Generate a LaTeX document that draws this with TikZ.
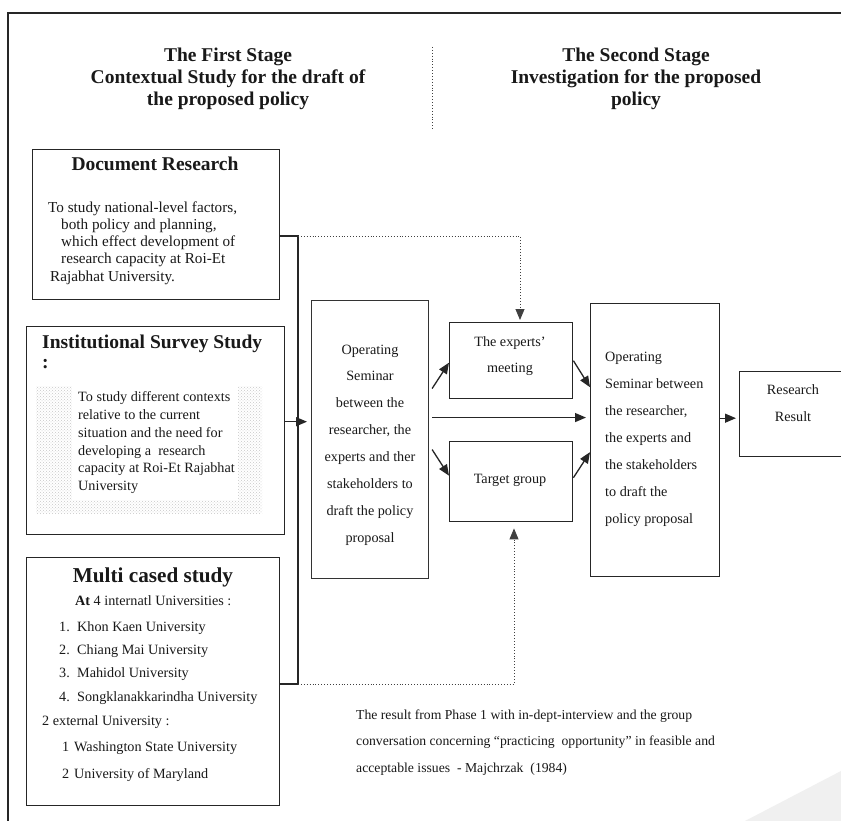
\documentclass[tikz,border=0pt]{standalone}
\usepackage{fontspec}
\setmainfont{Liberation Serif}
\usetikzlibrary{arrows.meta,patterns}
\begin{document}
\begin{tikzpicture}[x=1pt,y=-1pt,
  box/.style={draw=black!85,line width=1.4pt,inner sep=0pt,anchor=north west},
  thinbox/.style={draw=black!80,line width=1.1pt,inner sep=0pt,anchor=north west},
  txt/.style={inner sep=0pt,text=black!90},
  hd/.style={txt,font=\fontsize{19.5}{22}\selectfont\bfseries},
  bigt/.style={txt,font=\fontsize{21.2}{24}\selectfont\bfseries},
  bd/.style={txt,font=\fontsize{14.2}{17}\selectfont},
  docf/.style={txt,font=\fontsize{15.2}{17}\selectfont},
  smf/.style={txt,font=\fontsize{13.7}{17}\selectfont},
  ln/.style={draw=black!85,line width=1.3pt},
  arr/.style={ln,-{Triangle[length=11pt,width=9pt]}},
  dots/.style={draw=black!75,line width=0.9pt,dotted},
]
\useasboundingbox (0,0) rectangle (841,821);
\fill[white] (0,0) rectangle (841,821);
% soft grey corner shape
\fill[black!6] (745,821) -- (841,771) -- (841,821) -- cycle;

% outer frame
\draw[draw=black!85,line width=1.5pt] (8,821) -- (8,13) -- (841,13);

% stage headings
\node[hd,anchor=base] (h1a) at (228,62) {The First Stage};
\node[hd,anchor=base] (h1b) at (228,84) {Contextual Study for the draft of};
\node[hd,anchor=base] (h1c) at (228,106) {the proposed policy};
\node[hd,anchor=base] (h2a) at (636,62) {The Second Stage};
\node[hd,anchor=base] (h2b) at (636,84) {Investigation for the proposed};
\node[hd,anchor=base] (h2c) at (636,106) {policy};
\draw[dots,line width=0.7pt] (432,47) -- (432,130);

% first stage boxes
\node[box,minimum width=247pt,minimum height=150pt] (doc) at (32,149) {};
\node[box,minimum width=258pt,minimum height=208pt] (inst) at (26,326) {};
\node[box,minimum width=253pt,minimum height=248pt] (multi) at (26,557) {};

% stippled panel behind the survey text
\fill[pattern=crosshatch dots,pattern color=black!22] (36,386) rectangle (262,513);
\fill[white] (72,386) rectangle (238,500);

% Document Research
\node[hd,anchor=base] (docT) at (155,171) {Document Research};
\node[docf,anchor=base west] (doc1) at (48,213) {To study national-level factors,};
\node[docf,anchor=base west] (doc2) at (61,230) {both policy and planning,};
\node[docf,anchor=base west] (doc3) at (61,247) {which effect development of};
\node[docf,anchor=base west] (doc4) at (61,264) {research capacity at Roi-Et};
\node[docf,anchor=base west] (doc5) at (50,281) {Rajabhat University.};

% Institutional Survey Study
\node[hd,anchor=base west] (instT) at (42,348) {Institutional Survey Study};
\node[hd,anchor=base west] (instC) at (42,368) {:};
\node[bd,anchor=base west] (ins1) at (78,401) {To study different contexts};
\node[bd,anchor=base west] (ins2) at (78,419) {relative to the current};
\node[bd,anchor=base west] (ins3) at (78,437) {situation and the need for};
\node[bd,anchor=base west] (ins4) at (78,455) {developing a\ \ research};
\node[bd,anchor=base west] (ins5) at (78,472) {capacity at Roi-Et Rajabhat};
\node[bd,anchor=base west] (ins6) at (78,490) {University};

% Multi cased study
\node[bigt,anchor=base] (mulT) at (153,582) {Multi cased study};
\node[bd,anchor=base west] (mul0) at (75,605) {\textbf{At} 4 internatl Universities :};
\node[bd,anchor=base west] (mul1) at (59,631) {\makebox[18pt][l]{1.}Khon Kaen University};
\node[bd,anchor=base west] (mul2) at (59,654) {\makebox[18pt][l]{2.}Chiang Mai University};
\node[bd,anchor=base west] (mul3) at (59,677) {\makebox[18pt][l]{3.}Mahidol University};
\node[bd,anchor=base west] (mul4) at (59,701) {\makebox[18pt][l]{4.}Songklanakkarindha University};
\node[bd,anchor=base west] (mul5) at (42,725) {2 external University :};
\node[bd,anchor=base west] (mul6) at (62,751) {\makebox[12pt][l]{1}Washington State University};
\node[bd,anchor=base west] (mul7) at (62,778) {\makebox[12pt][l]{2}University of Maryland};

% first seminar
\node[thinbox,minimum width=117pt,minimum height=278pt] (opl) at (311,300) {};
\foreach \t [count=\i] in {Operating,Seminar,{between the},{researcher, the},{experts and ther},{stakeholders to},{draft the policy},proposal}
  \node[bd,anchor=base,name=opl\i] at (370,354+26.9*\i-26.9) {\t};

% experts and target group
\node[box,minimum width=123pt,minimum height=76pt] (experts) at (449,322) {};
\node[bd,anchor=base] (exp1) at (510,346) {The experts’};
\node[bd,anchor=base] (exp2) at (510,372) {meeting};
\node[box,minimum width=123pt,minimum height=80pt] (target) at (449,441) {};
\node[bd,anchor=base] (tg1) at (510,483) {Target group};

% second seminar
\node[box,minimum width=129pt,minimum height=273pt] (opr) at (590,303) {};
\foreach \t [count=\i] in {Operating,{Seminar between},{the researcher,},{the experts and},{the stakeholders},{to draft the},{policy proposal}}
  \node[bd,anchor=base west,name=opr\i] at (605,361+27*\i-27) {\t};

% result
\node[box,minimum width=112pt,minimum height=85pt] (result) at (739,371) {};
\node[bd,anchor=base] (res1) at (793,394) {Research};
\node[bd,anchor=base] (res2) at (793,421) {Result};

% note
\node[smf,anchor=base west] (n1) at (356,719) {The result from Phase 1 with in-dept-interview and the group};
\node[smf,anchor=base west] (n2) at (356,745) {conversation concerning “practicing\ \ opportunity" in feasible and};
\node[smf,anchor=base west] (n3) at (356,772) {acceptable issues\ \ - Majchrzak\ \ (1984)};

% connectors
\coordinate (j1) at (298,236);
\coordinate (j2) at (298,684);
\coordinate (d1) at (520,236);
\coordinate (d2) at (514,684);
\draw[ln] (doc.east |- j1) -- (j1) -- (j2) -- (multi.east |- j2);
\draw[dots,-{Triangle[length=11pt,width=9pt]},shorten >=2pt] (j1) -- (d1) -- (d1 |- experts.north);
\draw[dots,-{Triangle[length=11pt,width=9pt]},shorten >=6pt] (j2) -- (d2) -- (d2 |- target.south);
\draw[arr,shorten >=4pt] ([yshift=9pt]inst.east) -- ([yshift=9pt]inst.east -| opl.west);
\draw[arr] ([shift={(3pt,51pt)}]opl.east) -- ([yshift=-2pt]experts.west);
\draw[arr,shorten >=7pt] ([shift={(3pt,22pt)}]opl.east) -- ([shift={(3pt,22pt)}]opl.east -| opr.west);
\draw[arr] ([shift={(3pt,-10pt)}]opl.east) -- ([yshift=6pt]target.west);
\draw[arr] ([yshift=0pt]experts.east) -- ([yshift=53pt]opr.west);
\draw[arr] ([yshift=4pt]target.east) -- ([yshift=-12pt]opr.west);
\draw[arr,shorten >=3pt] ([yshift=22pt]opr.east) -- ([yshift=22pt]opr.east -| result.west);
\end{tikzpicture}
\end{document}
